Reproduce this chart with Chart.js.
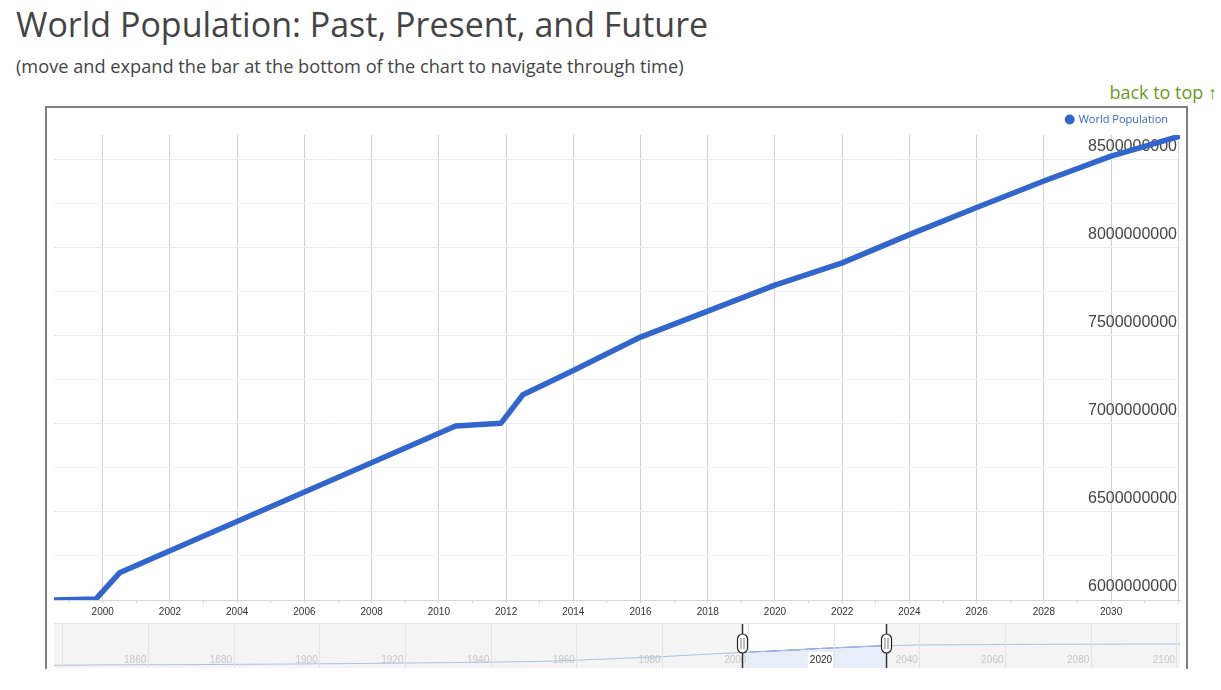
<!DOCTYPE html>
<html>
<head>
<meta charset="utf-8">
<script src="https://cdn.jsdelivr.net/npm/chart.js@4.4.1/dist/chart.umd.min.js"></script>
<style>
  html, body { margin: 0; padding: 0; background: #fff; }
  body { position: relative; width: 1221px; height: 690px; overflow: hidden; font-family: "Open Sans", sans-serif; }
  .title { position: absolute; left: 16px; top: 7px; font-size: 34px; line-height: 1; color: #444; white-space: nowrap; }
  .subtitle { position: absolute; left: 16px; top: 57px; font-size: 18.2px; line-height: 1; color: #444; white-space: nowrap; }
  .back-top { position: absolute; right: 4px; top: 83px; font-size: 18px; line-height: 1; color: #6a9a22; white-space: nowrap; }
  .box { position: absolute; left: 45px; top: 106px; width: 1139px; height: 561px; border: 2px solid #808080; border-bottom: none; }
  .main-wrap { position: absolute; left: 46px; top: 108px; width: 1139px; height: 514px; }
  .nav-wrap { position: absolute; left: 54px; top: 623px; width: 1126px; height: 44px; border-top: 1px solid #e2e2e2; }
</style>
</head>
<body>
<div class="title">World Population: Past, Present, and Future</div>
<div class="subtitle">(move and expand the bar at the bottom of the chart to navigate through time)</div>
<div class="back-top">back to top ↑</div>
<div class="box"></div>
<div class="main-wrap"><canvas class="population-chart"></canvas></div>
<div class="nav-wrap"><canvas class="navigator-chart"></canvas></div>

<script>
// values (fractional years where the line bends)
const years = [1998.55, 1999.8, 2000.5, 2010.5, 2011.85, 2012.5, 2014, 2016, 2018, 2020, 2022, 2024, 2026, 2028, 2030, 2032.05];
const population = [6000000000, 6006000000, 6154000000, 6987000000, 7003000000, 7164000000, 7301000000, 7491000000,
  7638000000, 7786000000, 7912000000, 8072000000, 8226000000, 8376000000, 8517000000, 8631000000];

// y gridlines, every other one carries a label
const popTicks = [6000000000, 6250000000, 6500000000, 6750000000, 7000000000, 7250000000,
  7500000000, 7750000000, 8000000000, 8250000000, 8500000000];
const popLabelStep = 500000000;

// overview line in the navigator strip
const navYears = [1838, 1850, 1870, 1890, 1910, 1930, 1950, 1960, 1970, 1980, 1990, 2000, 2010, 2020, 2030, 2040, 2060, 2080, 2100.7];
const navPopulation = [1050000000, 1200000000, 1300000000, 1500000000, 1750000000, 2070000000, 2500000000, 3000000000,
  3700000000, 4400000000, 5300000000, 6100000000, 6900000000, 7800000000, 8500000000, 8900000000, 9100000000, 9200000000, 9300000000];

const seriesName = 'World Population';
const yearRange = [1998.55, 2032.05];
const popRange = [6000000000, 8637000000];
const navRange = [1838, 2100.7];

const blue = '#3366cc';

function toPoints (xs, ys) {
  return xs.map((x, i) => ({ x: x, y: ys[i] }));
}

function displayPopulationChart () {
  const ctx = document.querySelector('.population-chart');

  new Chart(ctx, {
    type: 'line',
    data: {
      datasets: [{
        label: seriesName,
        data: toPoints(years, population),
        borderColor: blue,
        backgroundColor: blue,
        borderWidth: 5.5,
        pointRadius: 0,
        tension: 0,
        borderJoinStyle: 'round'
      }]
    },
    options: {
      animation: false,
      maintainAspectRatio: false,
      responsive: true,
      layout: { autoPadding: false, padding: { left: 8, right: 5, top: -6, bottom: 1 } },
      plugins: {
        tooltip: { enabled: false },
        legend: {
          align: 'end',
          labels: {
            usePointStyle: true,
            boxWidth: 7,
            boxHeight: 7,
            padding: 12,
            color: blue,
            font: { family: 'Open Sans', size: 11 },
            generateLabels: chart => Chart.defaults.plugins.legend.labels.generateLabels(chart)
              .map(item => Object.assign(item, { lineWidth: 0, fontColor: blue }))
          }
        }
      },
      scales: {
        x: {
          type: 'linear',
          min: yearRange[0],
          max: yearRange[1],
          border: { display: true, color: '#d6d6d6' },
          grid: {
            color: c => (c.tick && Math.round(c.tick.value) % 2 === 0) ? '#d2d2d2' : 'rgba(0,0,0,0)',
            tickColor: '#d2d2d2',
            tickLength: 3
          },
          ticks: {
            stepSize: 1,
            includeBounds: false,
            autoSkip: false,
            maxRotation: 0,
            padding: 3,
            color: '#333',
            font: { family: 'Liberation Sans', size: 10 },
            callback: v => (Math.round(v) % 2 === 0 && v < 2031 ? String(Math.round(v)) : '')
          }
        },
        y: {
          position: 'right',
          min: popRange[0],
          max: popRange[1],
          border: { display: false },
          afterBuildTicks: scale => { scale.ticks = popTicks.map(v => ({ value: v })); },
          afterFit: scale => { scale.width = 0; },
          grid: {
            drawTicks: false,
            color: c => (c.tick && c.tick.value % popLabelStep === 0) ? '#e9e9f3' : '#f3f3f3'
          },
          ticks: {
            mirror: true,
            padding: -3,
            labelOffset: -13,
            color: '#444',
            font: { family: 'Liberation Sans', size: 16 },
            callback: v => (v % popLabelStep === 0 ? String(v) : '')
          }
        }
      }
    }
  });
}

// gray strip, white selection window and the two drag handles
const navigatorDecor = {
  id: 'navigatorDecor',
  beforeDraw (chart) {
    const { ctx, chartArea: a, scales: { x } } = chart;
    const x0 = x.getPixelForValue(yearRange[0]);
    const x1 = x.getPixelForValue(yearRange[1]);
    ctx.save();
    ctx.fillStyle = '#f4f4f4';
    ctx.fillRect(a.left, a.top, a.right - a.left, a.bottom - a.top);
    ctx.fillStyle = '#ffffff';
    ctx.fillRect(x0, a.top, x1 - x0, a.bottom - a.top);
    ctx.restore();
  },
  afterDraw (chart) {
    const { ctx, chartArea: a, scales: { x } } = chart;
    ctx.save();
    yearRange.forEach(v => {
      const px = Math.round(x.getPixelForValue(v)) + 0.5;
      ctx.strokeStyle = '#333';
      ctx.lineWidth = 1.5;
      ctx.beginPath();
      ctx.moveTo(px, a.top);
      ctx.lineTo(px, a.bottom);
      ctx.stroke();
      ctx.beginPath();
      ctx.roundRect(px - 5, a.top + 10, 10, 19, 5);
      ctx.fillStyle = '#fff';
      ctx.fill();
      ctx.lineWidth = 1.2;
      ctx.strokeStyle = '#222';
      ctx.stroke();
      ctx.strokeStyle = '#777';
      ctx.lineWidth = 1;
      ctx.beginPath();
      ctx.moveTo(px - 1.5, a.top + 14); ctx.lineTo(px - 1.5, a.top + 25);
      ctx.moveTo(px + 1.5, a.top + 14); ctx.lineTo(px + 1.5, a.top + 25);
      ctx.stroke();
    });
    ctx.restore();
  }
};

function displayNavigatorChart () {
  const ctx = document.querySelector('.navigator-chart');

  new Chart(ctx, {
    type: 'line',
    data: {
      datasets: [{
        data: toPoints(navYears, navPopulation),
        borderColor: '#aebfe6',
        borderWidth: 1,
        pointRadius: 0,
        fill: false
      }, {
        data: toPoints(years, population),
        borderColor: blue,
        borderWidth: 1,
        pointRadius: 0,
        fill: 'origin',
        backgroundColor: '#e7edf9'
      }]
    },
    options: {
      animation: false,
      maintainAspectRatio: false,
      responsive: true,
      layout: { autoPadding: false, padding: 0 },
      plugins: { legend: { display: false }, tooltip: { enabled: false } },
      scales: {
        x: {
          type: 'linear',
          min: navRange[0],
          max: navRange[1],
          border: { display: false },
          grid: { drawTicks: false, color: '#e3e3e3', z: 1 },
          ticks: {
            z: 1,
            stepSize: 20,
            includeBounds: false,
            autoSkip: false,
            maxRotation: 0,
            align: 'end',
            labelOffset: -2,
            padding: -16,
            font: { family: 'Liberation Sans', size: 10, lineHeight: 1.6 },
            color: c => (c.tick && c.tick.value === 2020) ? '#222' : '#c6c6c6',
            showLabelBackdrop: c => !!(c.tick && c.tick.value === 2020),
            backdropColor: '#ffffff',
            backdropPadding: { left: 2, right: 1, top: 0, bottom: 0 },
            callback: v => (v < 1850 ? '' : String(Math.round(v)))
          }
        },
        y: { display: false, min: 0, max: 17000000000 }
      }
    },
    plugins: [navigatorDecor]
  });
}

displayPopulationChart();
displayNavigatorChart();
</script>
</body>
</html>
